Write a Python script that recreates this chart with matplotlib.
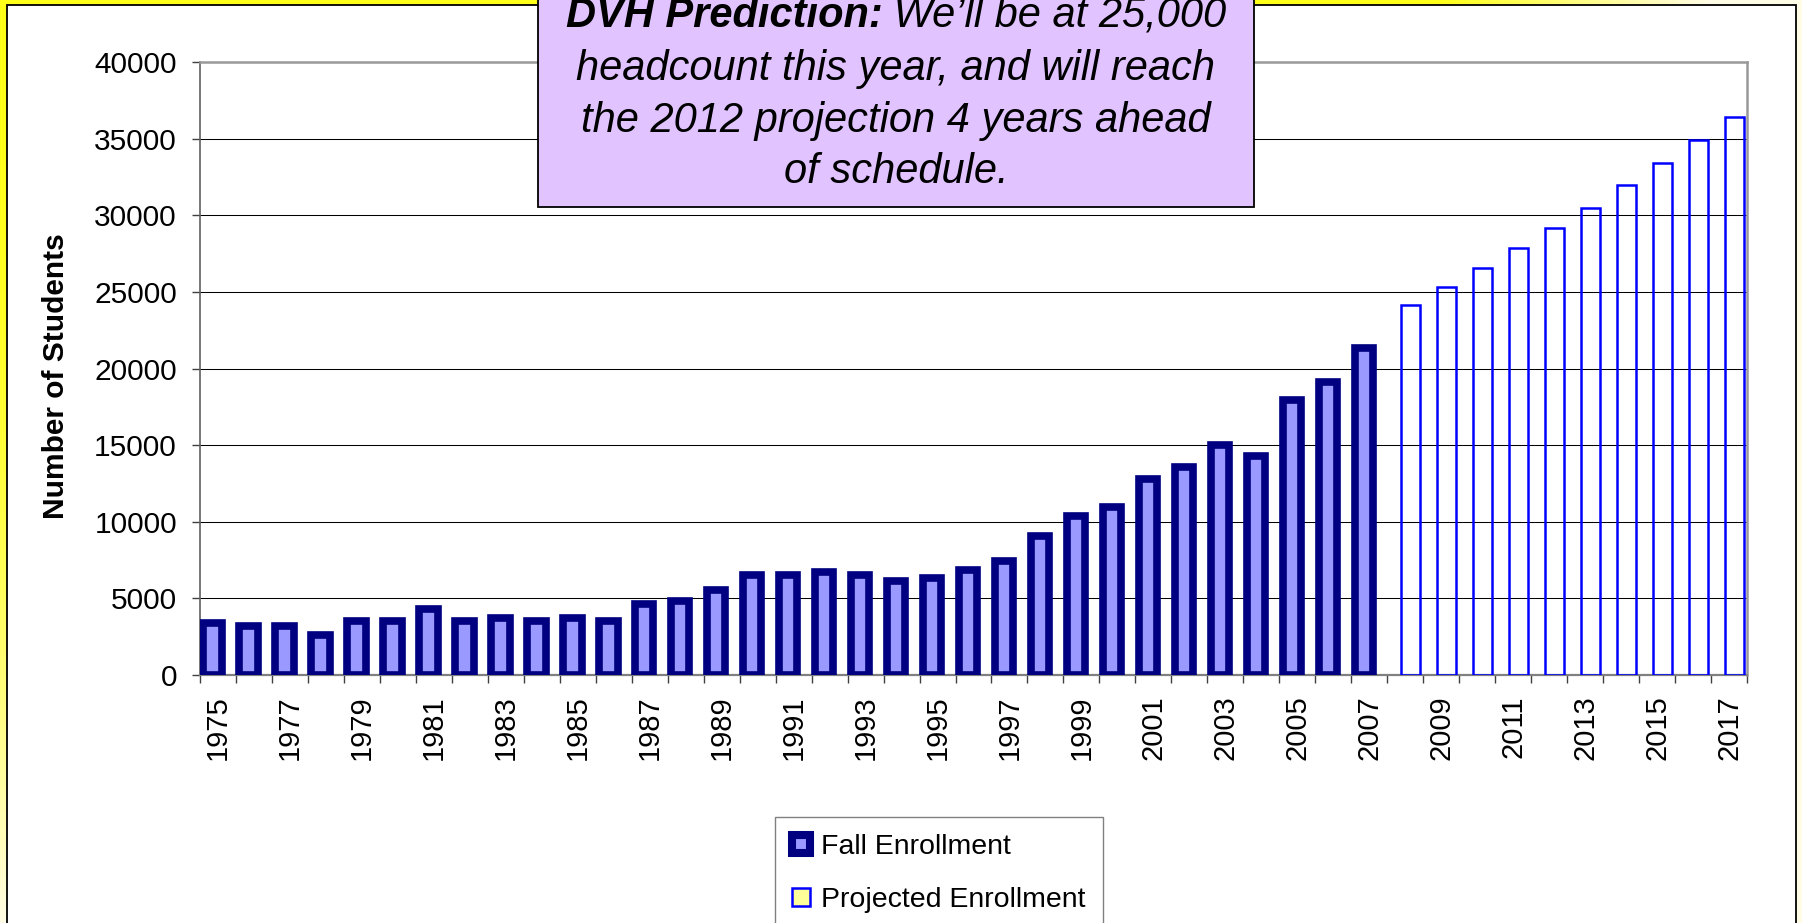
import matplotlib
matplotlib.use('Agg')
import matplotlib.pyplot as plt
from matplotlib.patches import Rectangle, Patch
import numpy as np

plt.rcParams['font.family'] = 'Liberation Sans'

# Data
fall_years = list(range(1975, 2008))
fall = [3370, 3170, 3170, 2610, 3540, 3540, 4280, 3540, 3720, 3540, 3720, 3540,
        4630, 4830, 5570, 6500, 6500, 6700, 6500, 6130, 6330, 6870, 7430, 9090,
        10370, 10960, 12780, 13540, 15000, 14280, 17960, 19090, 21310]
proj_years = list(range(2008, 2018))
proj = [24150, 25300, 26550, 27850, 29150, 30450, 31950, 33400, 34900, 36400]
years = fall_years + proj_years
yticks = [0, 5000, 10000, 15000, 20000, 25000, 30000, 35000, 40000]

note_lines = ['headcount this year, and will reach',
              'the 2012 projection 4 years ahead',
              'of schedule.']

W, H = 1802, 923
fig = plt.figure(figsize=(W / 100, H / 100), dpi=100)

# yellow gradient behind the white panel
bg = fig.add_axes([0, 0, 1, 1], zorder=-2)
gx, gy = np.meshgrid(np.linspace(0, 1, 400), np.linspace(0, 1, 200))
t = np.clip(np.maximum((gx - 0.8) / 0.15, 0) + gy ** 2.5, 0, 1)
yellow = np.array([1.0, 1.0, 0.1])
cream = np.array([1.0, 0.99, 0.9])
img = yellow[None, None, :] * (1 - t[..., None]) + cream[None, None, :] * t[..., None]
bg.imshow(img, aspect='auto', extent=[0, 1, 0, 1], origin='upper')
bg.axis('off')

panel = Rectangle((7 / W, -0.02), (1796 - 7) / W, 1.02 - 5 / H, transform=fig.transFigure,
                  facecolor='white', edgecolor='black', linewidth=1.3, zorder=-1)
fig.patches.append(panel)

ax = fig.add_axes([200 / W, (H - 675) / H, 1547 / W, 613 / H])

x_fall = np.arange(len(fall)) - 0.15
ax.bar(x_fall, fall, width=0.51, color='#9999FF', edgecolor='#000080', linewidth=5.5, zorder=3)
x_proj = np.arange(len(fall), len(fall) + len(proj)) + 0.15
ax.bar(x_proj, proj, width=0.51, facecolor='none', edgecolor='#0000FF', linewidth=1.8, zorder=3)

ax.set_xlim(-0.5, len(years) - 0.5)
ax.set_ylim(0, 40000)
ax.set_yticks(yticks)
ax.set_yticklabels([str(v) for v in yticks], fontsize=21.5)
ax.yaxis.grid(True, color='black', linewidth=0.75)
ax.set_axisbelow(True)

idx = np.arange(len(years))
ax.set_xticks(idx[::2])
ax.set_xticklabels([str(y) for y in years[::2]], rotation=90, fontsize=21)
ax.set_xticks(np.arange(len(years) + 1) - 0.5, minor=True)
ax.tick_params(axis='x', which='major', length=0, pad=14.5)
ax.tick_params(axis='x', which='minor', length=5.8, width=1, color='#404040')
ax.tick_params(axis='y', length=5.8, width=1, pad=10.8, color='#404040')

for side in ['top', 'right']:
    ax.spines[side].set_color('#999999')
    ax.spines[side].set_linewidth(1.8)
ax.spines['left'].set_color('#606060')
ax.spines['left'].set_linewidth(1.2)
ax.spines['bottom'].set_color('#808080')
ax.spines['bottom'].set_linewidth(1.6)

fig.text(56 / W, 1 - 376 / H, 'Number of Students', rotation=90, ha='center', va='center',
         fontsize=21.5, fontweight='bold')

# prediction box
box = Rectangle((538 / W, 1 - 207 / H), (1254 - 538) / W, 0.3, transform=fig.transFigure,
                facecolor='#E1C4FF', edgecolor='black', linewidth=1.3, zorder=10)
fig.patches.append(box)

cx = 896
renderer = fig.canvas.get_renderer()
ta = fig.text(0, 1 - 27 / H, 'DVH Prediction:', fontsize=30, fontweight='bold', fontstyle='italic',
              va='baseline', zorder=11)
tb = fig.text(0, 1 - 27 / H, ' We\u2019ll be at 25,000', fontsize=30, fontstyle='italic',
              va='baseline', zorder=11)
wa = ta.get_window_extent(renderer).width
wb = tb.get_window_extent(renderer).width
x0 = cx - (wa + wb) / 2
ta.set_x(x0 / W)
tb.set_x((x0 + wa) / W)

for line, base in zip(note_lines, [80, 132, 183]):
    fig.text(cx / W, 1 - base / H, line, fontsize=30, fontstyle='italic', ha='center',
             va='baseline', zorder=11)

h1 = Patch(facecolor='#9999FF', edgecolor='#000080', linewidth=5.8, label='Fall Enrollment')
h2 = Patch(facecolor='#FFFF99', edgecolor='#0000FF', linewidth=1.8, label='Projected Enrollment')
leg = fig.legend(handles=[h1, h2], loc='upper left', bbox_to_anchor=(775 / W, 1 - 817 / H),
                 fontsize=20.5, frameon=True, fancybox=False, edgecolor='#808080', framealpha=1,
                 handlelength=0.62, handleheight=0.62, handletextpad=0.4, labelspacing=0.95,
                 borderpad=0.6, borderaxespad=0)
leg.get_frame().set_linewidth(1)

fig.savefig('out.png', dpi=100)
